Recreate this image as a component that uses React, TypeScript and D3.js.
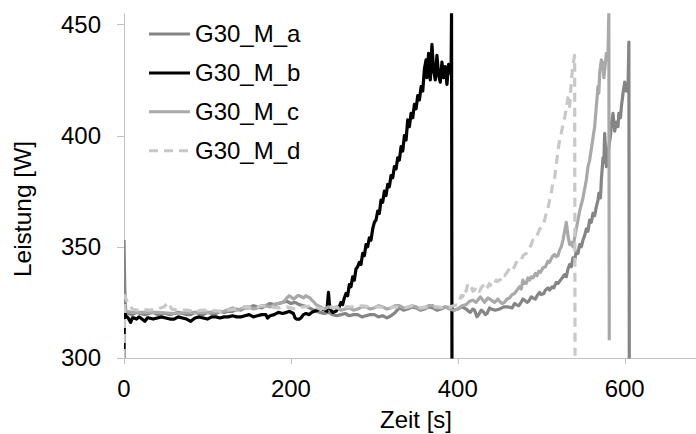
import React from "react";
import * as d3 from "d3";

const xTicks = [0, 200, 400, 600];
const yTicks = [300, 350, 400, 450];
const seriesNames = ["G30_M_a", "G30_M_b", "G30_M_c", "G30_M_d"];

const serA: [number, number][] = [
  [0, 353], [1, 330], [2, 321], [5, 320], [10, 319.5], [15, 320.5], [20, 320], [25, 319.5], [30, 320], [35, 320.5],
  [40, 319.5], [45, 320], [50, 320], [55, 319.5], [60, 320], [65, 320.5], [70, 320], [75, 319.5], [80, 319.5],
  [85, 320.5], [90, 320], [95, 319.5], [100, 320.5], [105, 320], [110, 320], [115, 321], [120, 320.5], [125, 321],
  [130, 321], [135, 322], [140, 321.5], [145, 322.5], [150, 322.5], [155, 323.5], [160, 323], [165, 322.5],
  [170, 323.5], [175, 324.5], [180, 324], [185, 324.5], [190, 325], [195, 325.5], [200, 324.5], [205, 325],
  [210, 324], [215, 323.5], [220, 323], [225, 322], [230, 321], [235, 320.5], [240, 320], [245, 320.5], [250, 319.5],
  [255, 319], [260, 319.5], [265, 320], [270, 319], [275, 319.5], [280, 319.5], [285, 318.5], [290, 319], [295, 319.5],
  [300, 319.5], [305, 318.5], [310, 319], [315, 318], [320, 319], [325, 320.5], [330, 322.5], [335, 321.5], [340, 322],
  [345, 323], [350, 322.5], [355, 321.5], [360, 322], [365, 323], [370, 322.5], [375, 321.5], [380, 322], [385, 323],
  [390, 322.5], [395, 321.5], [400, 322], [405, 323], [410, 322], [413, 321], [415, 320.5], [418, 322], [420, 321.5],
  [423, 318.5], [425, 319.5], [428, 321.5], [430, 321], [433, 319.5], [435, 320], [438, 322.5], [440, 322],
  [445, 321.5], [450, 322], [455, 323], [460, 323], [465, 322.5], [468, 324.5], [470, 324], [473, 323.5], [475, 324.5],
  [478, 326.5], [480, 326], [483, 325], [485, 325.5], [488, 327.5], [490, 327], [493, 326.5], [495, 328],
  [498, 329.5], [500, 328.5], [503, 329], [505, 330.5], [508, 331.5], [510, 330.5], [513, 332], [515, 331.5],
  [518, 334], [520, 333.5], [523, 335], [525, 336], [528, 337.5], [530, 336.5], [532, 340], [534, 342], [536, 341],
  [538, 345], [540, 344], [542, 348], [544, 347], [546, 351], [548, 350], [550, 353], [552, 355], [554, 358],
  [556, 357], [558, 362], [560, 361], [562, 365], [564, 364], [566, 368], [568, 371], [569, 374], [571, 372],
  [572, 380], [574, 390], [575, 388], [576, 401], [578, 386], [580, 392], [581, 395], [583, 400], [584, 405],
  [586, 410], [588, 402], [590, 406], [592, 404], [593, 410], [595, 408], [596, 413], [598, 419], [600, 424],
  [602, 420], [604, 422], [605, 442], [605.5, 299],
];

const serB: [number, number][] = [
  [0, 300], [0.5, 321], [2, 319], [5, 318], [8, 316], [10, 318], [12, 318], [15, 317.5], [18, 318.5], [20, 318],
  [25, 316.5], [28, 318], [30, 318], [35, 317.5], [40, 318], [45, 318.5], [50, 318], [55, 317.5], [60, 317.5],
  [65, 318.5], [70, 318], [75, 317.5], [80, 316.5], [85, 318], [90, 318.5], [95, 318], [100, 317.5], [105, 318.5],
  [110, 318.5], [115, 318], [120, 318.5], [125, 318.5], [130, 319], [135, 318.5], [140, 318.5], [145, 319],
  [150, 319.5], [155, 318.5], [160, 319], [165, 319.5], [170, 319.5], [172, 318], [175, 319], [180, 319.5],
  [185, 320.5], [190, 320], [195, 320.5], [198, 321], [203, 320], [205, 318], [207, 317.5], [210, 317.5], [212, 318],
  [215, 319.5], [218, 320], [222, 319.5], [225, 320.5], [228, 321], [232, 321.5], [235, 322.5], [238, 322],
  [241, 321.5], [243, 321], [244, 325], [245, 329.5], [246, 325], [247, 322], [250, 320.5], [254, 321], [256, 322],
  [258, 323], [260, 325], [262, 324], [264, 327], [266, 329], [268, 328], [270, 333], [272, 332], [274, 336.5],
  [276, 335], [278, 340], [280, 341], [282, 343], [284, 342], [286, 347], [288, 346], [290, 351], [292, 350],
  [294, 354], [296, 353], [298, 358], [300, 361], [302, 362], [304, 366], [306, 365], [308, 371], [310, 370],
  [312, 375], [314, 373], [316, 378], [318, 377], [320, 382], [322, 381], [324, 386], [326, 385], [328, 390],
  [330, 389], [332, 395], [334, 393], [336, 400], [338, 398], [340, 407], [342, 404], [344, 410], [346, 408],
  [348, 414], [350, 412], [352, 418], [354, 416], [356, 422], [358, 420], [360, 430], [362, 434], [363, 426],
  [365, 437], [367, 425], [369, 441], [371, 429], [373, 425], [375, 436], [377, 427], [379, 424], [381, 433],
  [383, 426], [385, 431], [387, 423], [389, 432], [391, 428], [392, 430], [392.5, 456], [393, 299],
];

const serC: [number, number][] = [
  [0, 322], [3, 321], [10, 320.5], [20, 320.5], [40, 320.5], [60, 320], [80, 320.5], [100, 320.5], [120, 321],
  [130, 322.5], [135, 321.5], [140, 322], [145, 323], [150, 323], [155, 322], [160, 322.5], [165, 323.5],
  [170, 323.5], [175, 323], [180, 324], [185, 324.5], [190, 325], [193, 326], [195, 327], [198, 328], [200, 327.5],
  [203, 326.5], [205, 327], [208, 328], [210, 328], [213, 327.5], [215, 327], [218, 328], [220, 327.5], [223, 327],
  [225, 326], [228, 325], [230, 324], [233, 323.5], [235, 323], [238, 322.5], [240, 322], [245, 323], [250, 322.5],
  [255, 323], [260, 321.5], [265, 322], [270, 322.5], [275, 321.5], [280, 322], [285, 323], [290, 323], [295, 322],
  [300, 322.5], [305, 323.5], [310, 323], [315, 322], [320, 322.5], [325, 323.5], [330, 323.5], [335, 322.5],
  [340, 322.5], [345, 323.5], [350, 323], [355, 322], [360, 322.5], [365, 323.5], [370, 323.5], [375, 322.5],
  [380, 322.5], [385, 323], [390, 322], [395, 321.5], [400, 322], [405, 323.5], [410, 324], [414, 325.5], [418, 326],
  [422, 325], [427, 327.5], [430, 326], [432, 325], [436, 327], [440, 326], [444, 325], [448, 326.5], [450, 325.5],
  [453, 324.5], [456, 325], [459, 326.5], [462, 327], [465, 328.5], [468, 329], [471, 330.5], [474, 332],
  [476, 331], [478, 335], [480, 333.5], [482, 333.5], [484, 336], [486, 335], [488, 336.5], [490, 336],
  [493, 338], [495, 337], [497, 339], [499, 338.5], [502, 340.5], [505, 341], [508, 343.5], [510, 343],
  [513, 345.5], [516, 346.5], [518, 345.5], [520, 346], [522, 348.5], [524, 350], [526, 353], [528, 357],
  [530, 361], [532, 355], [534, 351], [536, 352], [538, 350], [540, 354], [542, 358], [544, 362], [546, 366],
  [548, 369], [550, 372], [552, 376], [554, 380], [556, 386], [558, 389], [560, 394], [562, 399], [564, 404],
  [566, 413], [568, 422], [569, 419], [570, 428], [572, 434], [574, 432], [575, 426], [577, 433], [578, 437],
  [580, 437], [581, 456], [581.5, 308],
];

const serD: [number, number][] = [
  [0, 300], [1, 328], [3, 326], [6, 324], [10, 322], [15, 321.5], [20, 322], [30, 321.5], [40, 322], [48, 323],
  [53, 325], [57, 322], [65, 321.5], [75, 321.5], [85, 321], [95, 321.5], [105, 321.5], [115, 321], [125, 321.5],
  [135, 322], [145, 323], [155, 322.5], [165, 323.5], [175, 323], [185, 322.5], [195, 323], [205, 322], [215, 323],
  [225, 323.5], [235, 322], [245, 323], [255, 322.5], [265, 323], [275, 323], [285, 323.5], [295, 323], [305, 323],
  [315, 322.5], [325, 323], [335, 322.5], [345, 323.5], [355, 322.5], [365, 323], [375, 323], [385, 322.5],
  [395, 323.5], [400, 324], [402, 326], [404, 328], [406, 327.5], [408, 331], [410, 330], [412, 333.5], [414, 333],
  [416, 332], [418, 330], [420, 330.5], [422, 332], [424, 331], [426, 330], [428, 331.5], [430, 332.5], [432, 330.5],
  [434, 331], [436, 332], [438, 333.5], [440, 332.5], [442, 332], [444, 333], [446, 335], [448, 334.5], [450, 335],
  [452, 335.5], [454, 337.5], [456, 337], [458, 338], [460, 339], [462, 340.5], [464, 339.5], [466, 340],
  [468, 341], [470, 343], [472, 342.5], [474, 343], [476, 344], [478, 346], [480, 346.5], [482, 347], [484, 349],
  [486, 349.5], [488, 351], [490, 353], [492, 353], [494, 354], [496, 356], [498, 358], [500, 358.5], [502, 360],
  [504, 362], [506, 365], [508, 367], [510, 371], [512, 374], [514, 379], [516, 381], [518, 387], [520, 393],
  [522, 398], [524, 401], [526, 405], [528, 408], [530, 412], [532, 417], [533, 414], [534, 413], [535, 419],
  [536, 424], [538, 432], [540, 436], [540.5, 301],
];

const seriesData = [serA, serB, serC, serD];
const colors = ["#858585", "#000000", "#a9a9a9", "#c8c8c8"];
const dashes = [null, null, null, "9,6"];

const W = 696;
const H = 434;
const left = 124;
const bottom = 358;
const top = 13.2;

export default function App() {
  const x = d3.scaleLinear().domain([0, 700]).range([left, left + 700 * 0.8345]);
  const y = d3.scaleLinear().domain([300, 455]).range([bottom, top]);
  const line = d3
    .line<[number, number]>()
    .x((d) => x(d[0]))
    .y((d) => y(d[1]));
  const font = "'Liberation Sans', Arial, sans-serif";
  const axisColor = "#c0c0c0";
  return (
    <svg
      width={W}
      height={H}
      style={{ position: "absolute", left: 0, top: 0, background: "#fff" }}
      fontFamily={font}
    >
      <defs>
        <clipPath id="plot">
          <rect x={left} y={top} width={W - left} height={bottom - top + 0.5} />
        </clipPath>
      </defs>
      <line x1={left} x2={W} y1={bottom + 0.5} y2={bottom + 0.5} stroke={axisColor} strokeWidth={1} />
      <line x1={left + 0.5} x2={left + 0.5} y1={top} y2={bottom + 0.5} stroke={axisColor} strokeWidth={1} />
      {yTicks.map((t) => (
        <g key={"y" + t}>
          <line x1={left - 7} x2={left} y1={Math.round(y(t)) + 0.5} y2={Math.round(y(t)) + 0.5} stroke={axisColor} />
          <text x={101} y={y(t)} dy="0.35em" textAnchor="end" fontSize={24} fill="#000">
            {t}
          </text>
        </g>
      ))}
      {xTicks.map((t) => (
        <g key={"x" + t}>
          <line x1={Math.round(x(t)) + 0.5} x2={Math.round(x(t)) + 0.5} y1={bottom} y2={bottom + 6} stroke={axisColor} />
          <text x={x(t)} y={397} textAnchor="middle" fontSize={24} fill="#000">
            {t}
          </text>
        </g>
      ))}
      <text x={416} y={428} textAnchor="middle" fontSize={24} fill="#000">
        Zeit [s]
      </text>
      <text transform="translate(31,209) rotate(-90)" textAnchor="middle" fontSize={24.5} fill="#000">
        Leistung [W]
      </text>
      <g clipPath="url(#plot)">
        {seriesData.map((s, i) => (
          <path
            key={i}
            d={line(s) || ""}
            fill="none"
            stroke={colors[i]}
            strokeWidth={3.2}
            strokeDasharray={dashes[i] || undefined}
            strokeLinejoin="round"
          />
        ))}
      </g>
      {seriesNames.map((n, i) => {
        const cy = 34 + i * 38.9;
        return (
          <g key={n}>
            <line x1={149} x2={190} y1={cy} y2={cy} stroke={colors[i]} strokeWidth={3} strokeDasharray={dashes[i] || undefined} />
            <text x={195} y={cy} dy="0.35em" fontSize={24} fill="#000">
              {n}
            </text>
          </g>
        );
      })}
    </svg>
  );
}
